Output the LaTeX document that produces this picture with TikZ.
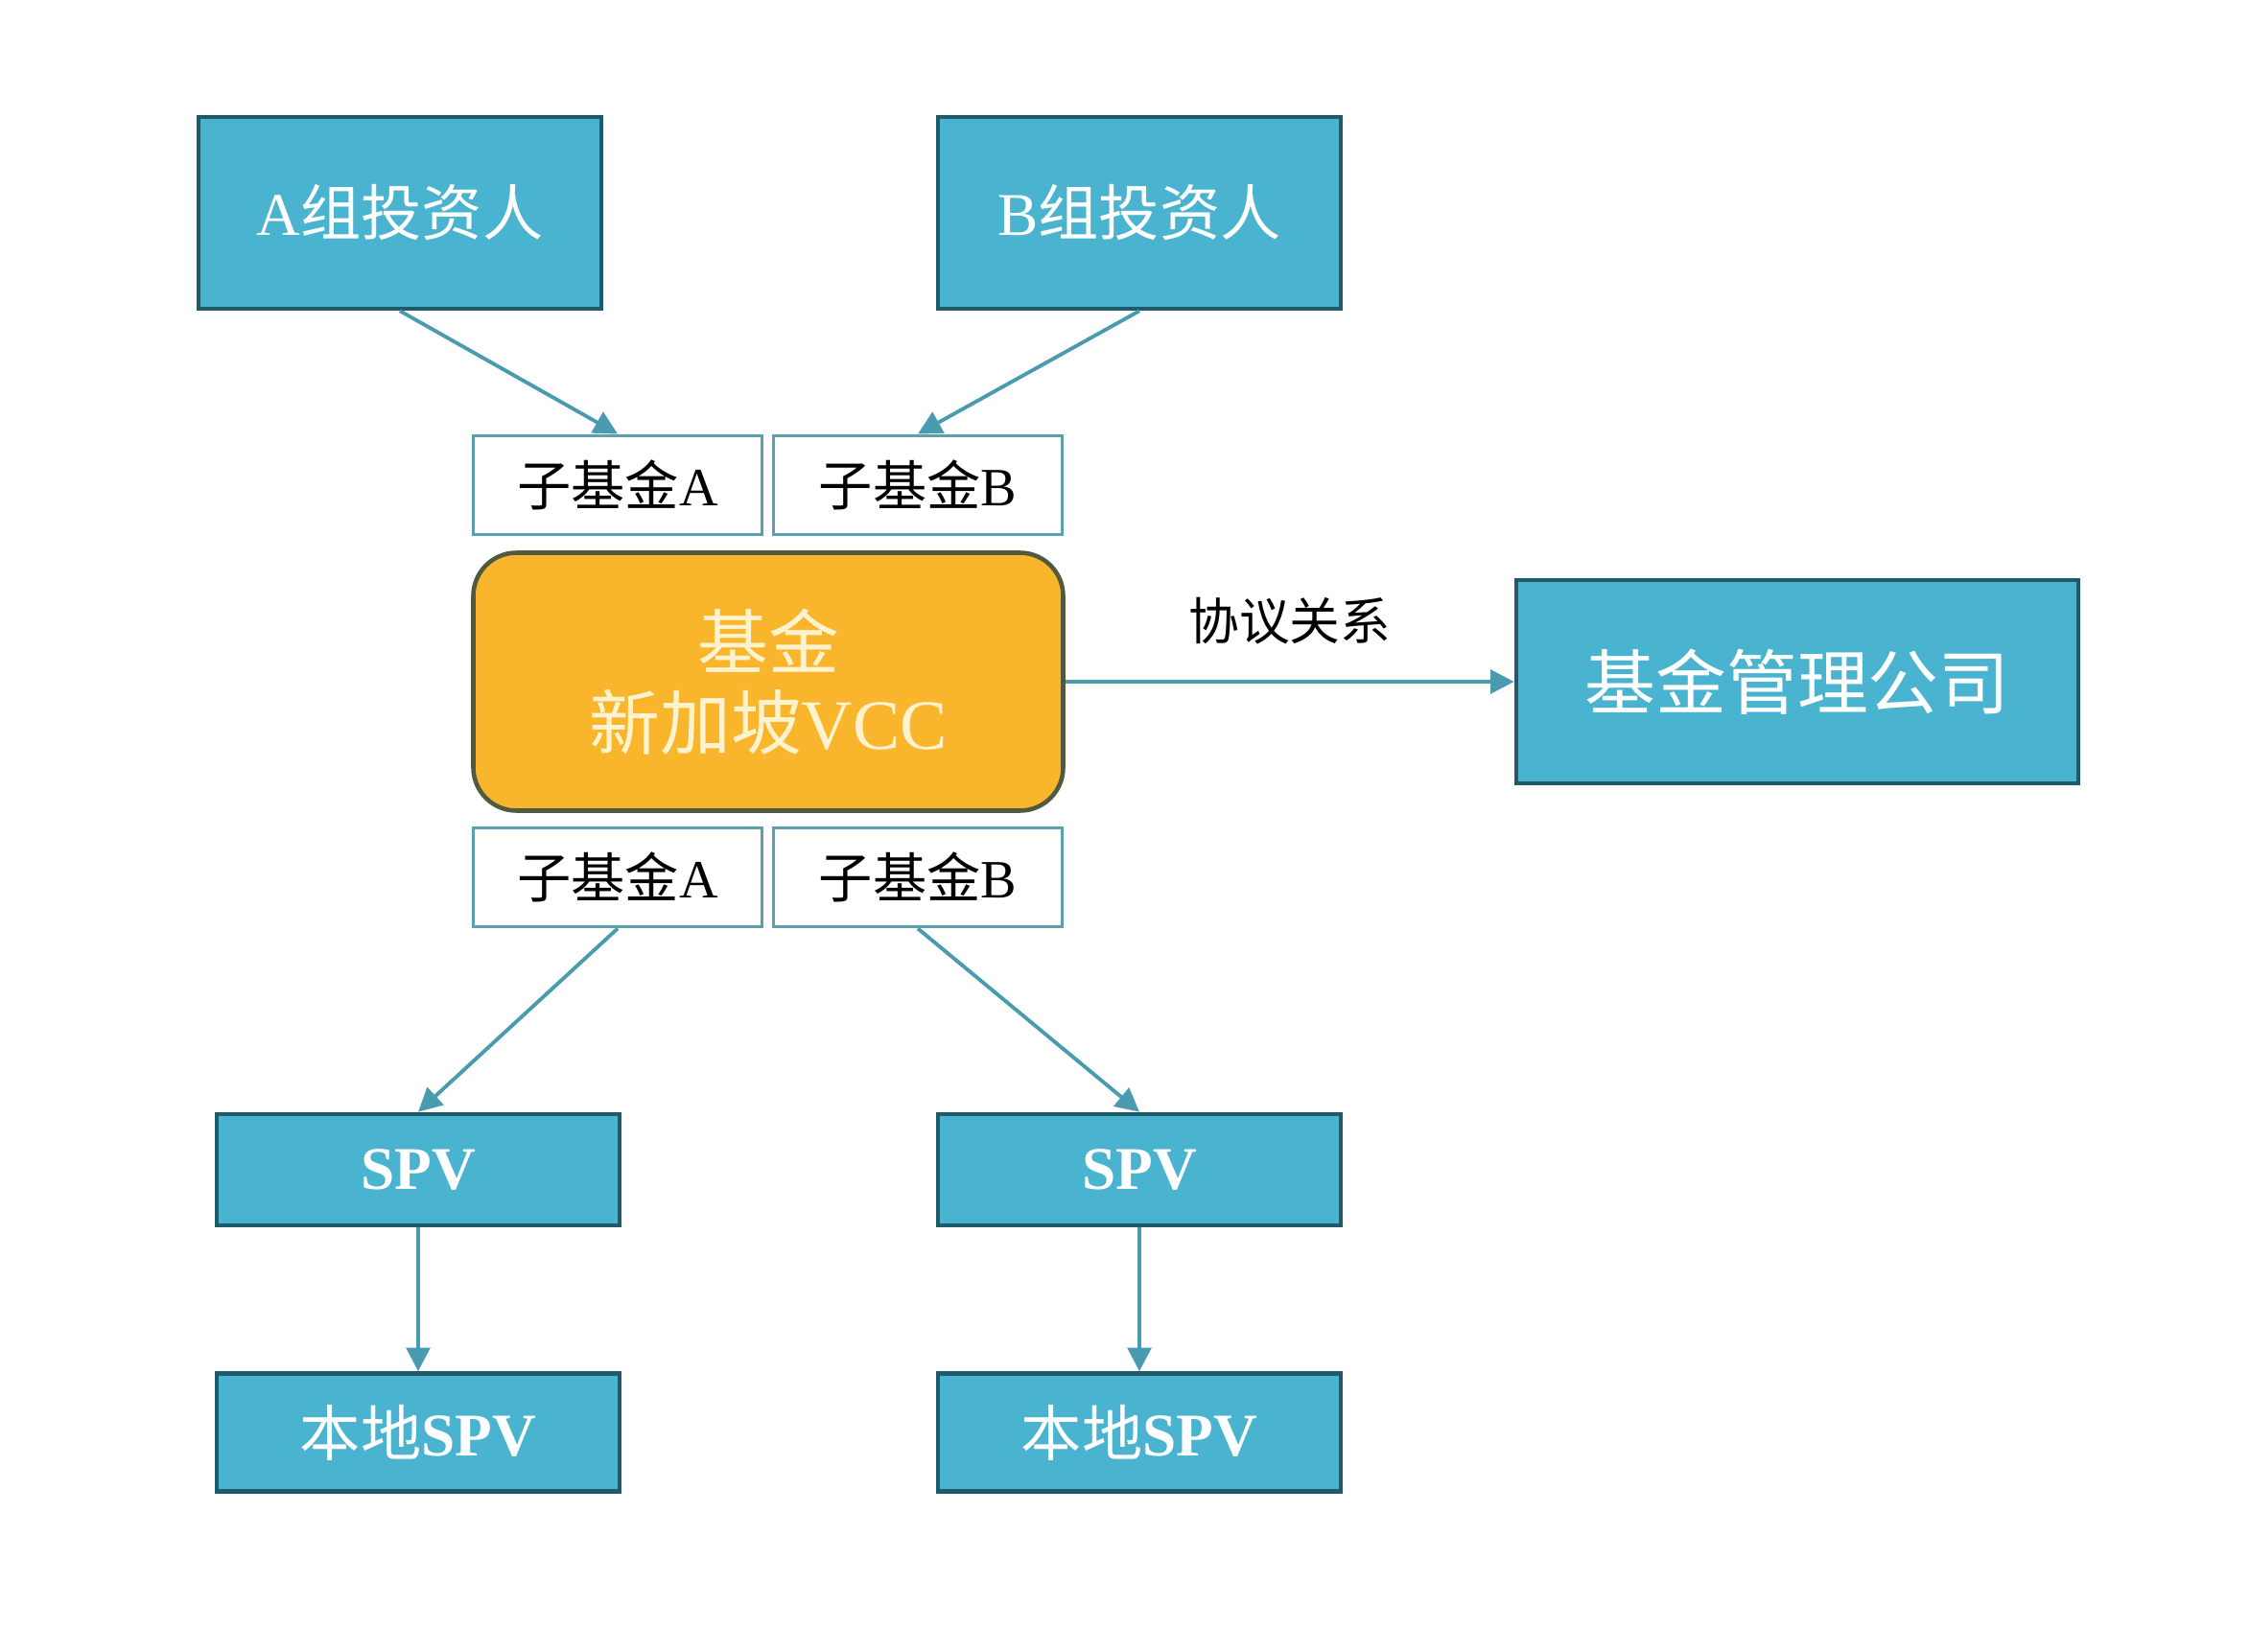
\documentclass[tikz,border=0pt]{standalone}
\usepackage{fontspec}
\setmainfont{Liberation Serif}
\newfontfamily\cjk{Noto Sans CJK SC}
\usetikzlibrary{arrows.meta}
\definecolor{boxblue}{HTML}{4AB3D0}
\definecolor{boxline}{HTML}{1E5A69}
\definecolor{vccfill}{HTML}{F9B62D}
\definecolor{vccline}{HTML}{4F5A3E}
\definecolor{subline}{HTML}{5C9FAF}
\definecolor{linkcol}{HTML}{4A9BAF}
\definecolor{cream}{HTML}{FFF3CF}
\tikzset{
  bluebox/.style={draw=boxline,line width=1.3pt,fill=boxblue,text=white,
    minimum width=4.2cm,inner sep=0pt,font=\fontsize{18}{22}\selectfont},
  subbox/.style={draw=subline,line width=1.1pt,fill=white,text=black,
    minimum width=3.01cm,minimum height=1.03cm,inner sep=0pt,font=\fontsize{16}{19}\selectfont},
  link/.style={draw=linkcol,line width=1.1pt,-{Triangle[length=7pt,width=7pt]}}
}
\begin{document}
\begin{tikzpicture}
  \useasboundingbox (0,0) rectangle (23.46,17.22);
  % investors
  \node[bluebox,minimum height=2cm] (invA) at (4.17,15.00) {A{\cjk 组投资人}};
  \node[bluebox,minimum height=2cm] (invB) at (11.88,15.00) {B{\cjk 组投资人}};
  % sub funds above
  \node[subbox] (subAt) at (6.44,12.16) {{\cjk 子基金}A};
  \node[subbox] (subBt) at (9.57,12.16) {{\cjk 子基金}B};
  % the VCC
  \node[draw=vccline,line width=1.3pt,fill=vccfill,rounded corners=0.45cm,
    minimum width=6.15cm,minimum height=2.69cm,text=cream,align=center,
    font=\fontsize{21}{25}\selectfont] (vcc) at (8.01,10.11)
    {{\cjk 基金}\\[-1pt]{\cjk 新加坡}VCC};
  % sub funds below
  \node[subbox] (subAb) at (6.44,8.07) {{\cjk 子基金}A};
  \node[subbox] (subBb) at (9.57,8.07) {{\cjk 子基金}B};
  % manager
  \node[bluebox,minimum width=5.86cm,minimum height=2.12cm,
    font=\cjk\fontsize{21}{25}\selectfont] (mgr) at (18.74,10.11) {基金管理公司};
  % SPVs
  \node[bluebox,minimum height=1.16cm,font=\bfseries\fontsize{18}{22}\selectfont] (spvA) at (4.36,5.02) {SPV};
  \node[bluebox,minimum height=1.16cm,font=\bfseries\fontsize{18}{22}\selectfont] (spvB) at (11.88,5.02) {SPV};
  \node[bluebox,minimum height=1.23cm,font=\bfseries\fontsize{18}{22}\selectfont] (locA) at (4.36,2.28) {{\mdseries\cjk 本地}SPV};
  \node[bluebox,minimum height=1.23cm,font=\bfseries\fontsize{18}{22}\selectfont] (locB) at (11.88,2.28) {{\mdseries\cjk 本地}SPV};
  % connectors
  \draw[link] (invA.south) -- (subAt.north);
  \draw[link] (invB.south) -- (subBt.north);
  \draw[link] (vcc.east) -- node[above=0.25cm,text=black,font=\cjk\fontsize{15}{18}\selectfont] (deal) {协议关系} (mgr.west);
  \draw[link] (subAb.south) -- (spvA.north);
  \draw[link] (subBb.south) -- (spvB.north);
  \draw[link] (spvA.south) -- (locA.north);
  \draw[link] (spvB.south) -- (locB.north);
\end{tikzpicture}
\end{document}
